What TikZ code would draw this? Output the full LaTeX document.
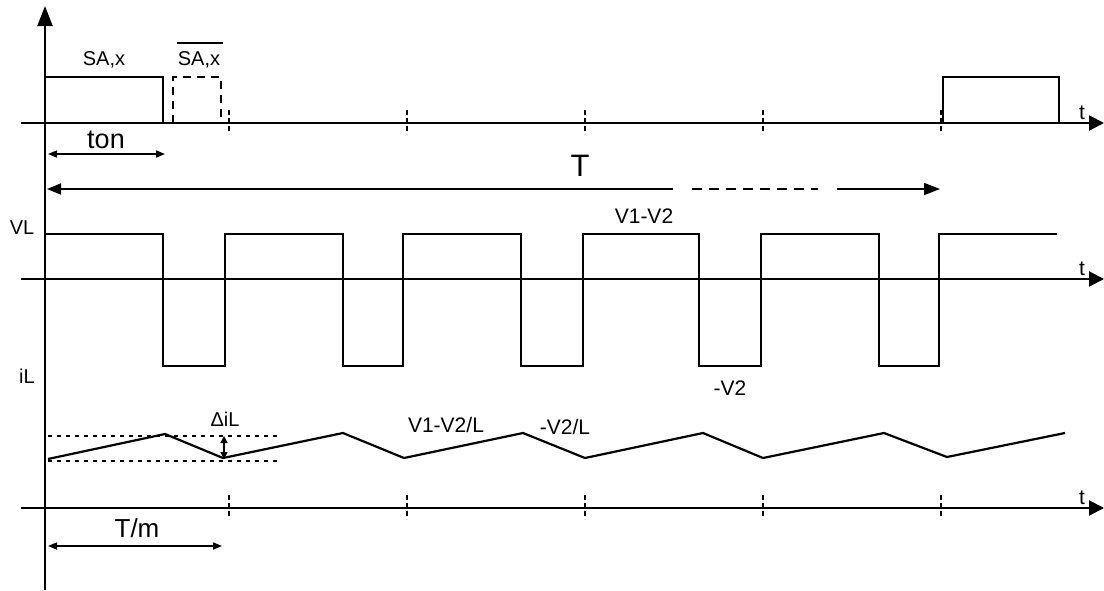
\documentclass[tikz,border=0pt]{standalone}
\usepackage{fontspec}
\setmainfont{Liberation Sans}
\usetikzlibrary{arrows.meta}
\newcommand{\fs}[1]{\fontsize{#1}{#1}\selectfont}
\begin{document}
\begin{tikzpicture}[x=1pt,y=-1pt,
  lbl/.style={inner sep=0pt, anchor=base},
  axis/.style={line width=2.2pt,-{Triangle[length=15pt,width=15pt]}},
  vaxis/.style={line width=2.2pt,-{Triangle[length=20pt,width=15pt]}},
  wave/.style={line width=2.2pt, line join=miter},
  pulsedash/.style={line width=2.2pt, dash pattern=on 8pt off 6pt},
  tickmark/.style={line width=1.6pt, dash pattern=on 5pt off 3pt},
  dotline/.style={line width=1.6pt, dash pattern=on 4pt off 5pt},
  dim/.style={line width=1.6pt,{Triangle[length=9pt,width=7pt]}-{Triangle[length=9pt,width=7pt]}},
  bigdimL/.style={line width=1.8pt,{Triangle[length=14pt,width=11pt]}-},
  bigdimR/.style={line width=1.8pt,-{Triangle[length=16pt,width=12pt]}},
  tdash/.style={line width=1.8pt, dash pattern=on 10pt off 7pt}]
\useasboundingbox (0,0) rectangle (1104,590);

% vertical axis
\coordinate (ybot) at (45,590);
\coordinate (ytop) at (45,6);
\draw[vaxis] (ybot) -- (ytop);

% horizontal axes
\coordinate (a1s) at (21,123); \coordinate (a1e) at (1104,123);
\coordinate (a2s) at (21,279); \coordinate (a2e) at (1104,279);
\coordinate (a3s) at (21,508); \coordinate (a3e) at (1104,508);
\draw[axis] (a1s) -- (a1e);
\draw[axis] (a2s) -- (a2e);
\draw[axis] (a3s) -- (a3e);
\node[lbl] (t1) at (1082,119) {\fs{21}t};
\node[lbl] (t2) at (1082,275) {\fs{21}t};
\node[lbl] (t3) at (1082,504) {\fs{21}t};

% tick marks
\foreach \x in {229,407,585,763,941} {
  \draw[tickmark] (\x,110) -- (\x,134);
  \draw[tickmark] (\x,495) -- (\x,519);
}

% switching signal
\draw[wave] (45,77) -- (163,77) -- (163,123);
\draw[pulsedash] (173,123) -- (173,77) -- (221,77) -- (221,123);
\draw[wave] (943,123) -- (943,77) -- (1059,77) -- (1059,123);
\node[lbl] (sa) at (104,65) {\fs{20}SA,x};
\node[lbl] (sab) at (199,65) {\fs{20}SA,x};
\draw[line width=2.8pt] (177,43) -- (223,43);

% ton and T
\coordinate (ton1) at (48,154); \coordinate (ton2) at (165,154);
\draw[dim] (ton1) -- (ton2);
\node[lbl] (ton) at (106,148) {\fs{27}ton};
\coordinate (Tl) at (47,189); \coordinate (Tm1) at (673,189);
\coordinate (Td1) at (692,189); \coordinate (Td2) at (818,189);
\coordinate (Tm2) at (837,189); \coordinate (Tr) at (940,189);
\draw[bigdimL] (Tl) -- (Tm1);
\draw[tdash] (Td1) -- (Td2);
\draw[bigdimR] (Tm2) -- (Tr);
\node[lbl] (T) at (580,176) {\fs{31}T};

% VL waveform
\node[lbl] (VL) at (22,234) {\fs{20}VL};
\draw[wave] (45,234) -- (163,234) -- (163,366) -- (225,366) -- (225,234)
  -- (343,234) -- (343,366) -- (403,366) -- (403,234)
  -- (521,234) -- (521,366) -- (583,366) -- (583,234)
  -- (699,234) -- (699,366) -- (761,366) -- (761,234)
  -- (879,234) -- (879,366) -- (939,366) -- (939,234) -- (1057,234);
\node[lbl] (v1v2) at (644,223) {\fs{21}V1-V2};
\node[lbl] (mv2) at (730,395) {\fs{21}-V2};

% iL waveform
\node[lbl] (iL) at (27,383) {\fs{20}iL};
\draw[wave] (48,459) -- (165,434) -- (223,458) -- (343,433) -- (404,458)
  -- (523,433) -- (585,458) -- (703,433) -- (763,458) -- (884,433)
  -- (947,457) -- (1065,433);
\draw[dotline] (48,436) -- (277,436);
\draw[dotline] (48,461) -- (277,461);
\coordinate (di1) at (224,436); \coordinate (di2) at (224,459);
\draw[line width=1.6pt,{Triangle[length=7pt,width=7pt]}-{Triangle[length=7pt,width=7pt]}] (di1) -- (di2);
\node[lbl] (diL) at (225,426) {\fs{20}ΔiL};
\node[lbl] (slope1) at (446,432) {\fs{21}V1-V2/L};
\node[lbl] (slope2) at (565,434) {\fs{21}-V2/L};

% T/m
\coordinate (tm1) at (48,546); \coordinate (tm2) at (222,546);
\draw[dim] (tm1) -- (tm2);
\node[lbl] (Tm) at (137,537) {\fs{26}T/m};
\end{tikzpicture}
\end{document}
